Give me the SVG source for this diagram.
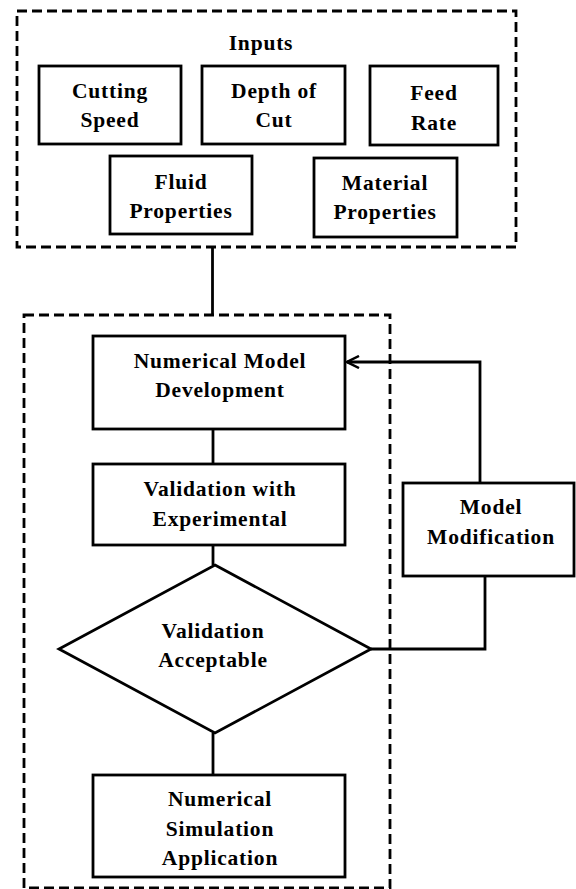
<svg xmlns="http://www.w3.org/2000/svg" width="576" height="889" viewBox="0 0 576 889">
<style>
.box{fill:#fff;stroke:#000;stroke-width:2.8}
.dash{fill:none;stroke:#000;stroke-width:2.8;stroke-dasharray:10 5}
.con{fill:none;stroke:#000;stroke-width:2.8}
text{font-family:"Liberation Serif","Times New Roman",serif;font-weight:bold;font-size:21.5px;fill:#000;text-anchor:middle;letter-spacing:0.8px}
</style>
<defs>
<marker id="arr" viewBox="0 0 14 14" refX="13" refY="7" markerWidth="14" markerHeight="14" markerUnits="userSpaceOnUse" orient="auto">
<path d="M1,1 L13,7 L1,13" fill="none" stroke="#000" stroke-width="2.5"/>
</marker>
</defs>
<rect x="0" y="0" width="576" height="889" fill="#fff"/>
<g id="inputs-group">
<rect class="dash" x="17" y="11" width="499" height="236"/>
<text x="261" y="50">Inputs</text>
</g>
<g id="cutting-speed">
<rect class="box" x="39" y="66" width="142" height="78"/>
<text x="110" y="98">Cutting</text>
<text x="110" y="127">Speed</text>
</g>
<g id="depth-of-cut">
<rect class="box" x="202" y="66" width="143" height="78"/>
<text x="274" y="98">Depth of</text>
<text x="274" y="127">Cut</text>
</g>
<g id="feed-rate">
<rect class="box" x="370" y="66" width="128" height="79"/>
<text x="434" y="100">Feed</text>
<text x="434" y="130">Rate</text>
</g>
<g id="fluid-properties">
<rect class="box" x="110" y="156" width="142" height="78"/>
<text x="181" y="189">Fluid</text>
<text x="181" y="218">Properties</text>
</g>
<g id="material-properties">
<rect class="box" x="314" y="158" width="143" height="79"/>
<text x="385" y="190">Material</text>
<text x="385" y="219">Properties</text>
</g>
<g id="model-group">
<rect class="dash" x="24" y="315" width="366" height="573"/>
</g>
<g id="connectors">
<path class="con" d="M212.5,247 V315"/>
<path class="con" d="M213,429 V464"/>
<path class="con" d="M213,545 V565"/>
<path class="con" d="M213,733 V775"/>
<path class="con" d="M371,649 H485 V576"/>
<path class="con" d="M480,483 V362 H347" marker-end="url(#arr)"/>
</g>
<g id="numerical-model-development">
<rect class="box" x="93" y="336" width="252" height="93"/>
<text x="220" y="368">Numerical Model</text>
<text x="220" y="397">Development</text>
</g>
<g id="validation-with-experimental">
<rect class="box" x="93" y="464" width="252" height="81"/>
<text x="220" y="496">Validation with</text>
<text x="220" y="526">Experimental</text>
</g>
<g id="validation-acceptable">
<polygon class="box" points="215,565 371,649 215,733 59,649"/>
<text x="213" y="638">Validation</text>
<text x="213" y="667">Acceptable</text>
</g>
<g id="model-modification">
<rect class="box" x="403" y="483" width="171" height="93"/>
<text x="491" y="514">Model</text>
<text x="491" y="544">Modification</text>
</g>
<g id="numerical-simulation-application">
<rect class="box" x="93" y="775" width="252" height="102"/>
<text x="220" y="806">Numerical</text>
<text x="220" y="836">Simulation</text>
<text x="220" y="865">Application</text>
</g>
</svg>
